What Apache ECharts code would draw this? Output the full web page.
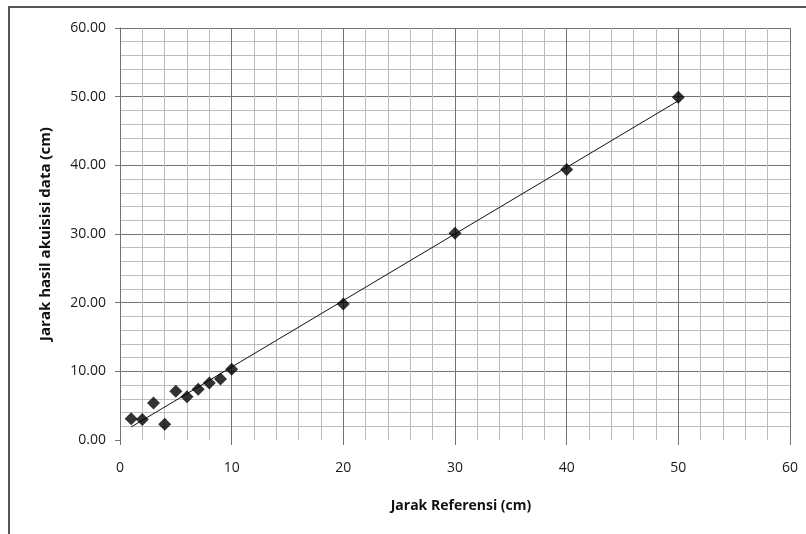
<!DOCTYPE html>
<html>
<head>
<meta charset="utf-8">
<script src="https://cdn.jsdelivr.net/npm/echarts@6/dist/echarts.min.js"></script>
<style>
html,body{margin:0;padding:0;background:#fff;}
#c{width:806px;height:534px;}
</style>
</head>
<body>
<div id="c"></div>
<script>
// Data
var refDistance = [1, 2, 3, 4, 5, 6, 7, 8, 9, 10, 20, 30, 40, 50];
var measuredDistance = [3.1, 3.0, 5.4, 2.3, 7.1, 6.3, 7.4, 8.3, 8.9, 10.3, 19.8, 30.1, 39.4, 49.9];
// Linear trendline endpoints as drawn in the picture
var trendX = [1, 50];
var trendY = [1.9, 49.4];
var xTitle = 'Jarak Referensi (cm)';
var yTitle = 'Jarak hasil akuisisi data (cm)';

var points = refDistance.map(function (x, i) { return [x, measuredDistance[i]]; });
var trend = trendX.map(function (x, i) { return [x, trendY[i]]; });

var FONT = '"Open Sans", sans-serif';
var majorColor = '#737373';
var minorColor = '#bdbdbd';

var chart = echarts.init(document.getElementById('c'), null, {renderer: 'canvas'});
chart.setOption({
  animation: false,
  backgroundColor: '#fff',
  graphic: [{
    type: 'rect',
    shape: {x: 9, y: 7, width: 820, height: 560},
    style: {fill: 'none', stroke: '#555', lineWidth: 2},
    silent: true,
    z: -1
  }],
  grid: {left: 120, right: 16, top: 28, bottom: 94, containLabel: false},
  xAxis: {
    type: 'value',
    min: 0, max: 60, interval: 10,
    name: xTitle,
    nameLocation: 'middle',
    nameGap: 59,
    nameTextStyle: {fontFamily: FONT, fontSize: 14, fontWeight: 'bold', color: '#111', padding: [0, 0, 0, 12]},
    axisLine: {show: false},
    axisTick: {show: true, length: 5, lineStyle: {color: majorColor}},
    axisLabel: {fontFamily: FONT, fontSize: 14, color: '#1a1a1a', margin: 21},
    splitLine: {show: true, lineStyle: {color: majorColor, width: 1}},
    minorTick: {show: false, splitNumber: 5},
    minorSplitLine: {show: true, lineStyle: {color: minorColor, width: 1}}
  },
  yAxis: {
    type: 'value',
    min: 0, max: 60, interval: 10,
    name: yTitle,
    nameLocation: 'middle',
    nameGap: 67,
    nameTextStyle: {fontFamily: FONT, fontSize: 15, fontWeight: 'bold', color: '#111'},
    axisLine: {show: true, lineStyle: {color: majorColor}},
    axisTick: {show: true, length: 5, lineStyle: {color: majorColor}},
    axisLabel: {fontFamily: FONT, fontSize: 14, color: '#1a1a1a', margin: 14,
      formatter: function (v) { return v.toFixed(2); }},
    splitLine: {show: true, lineStyle: {color: ['rgba(0,0,0,0)', majorColor, majorColor, majorColor, majorColor, majorColor, majorColor], width: 1}},
    minorTick: {show: false, splitNumber: 5},
    minorSplitLine: {show: true, lineStyle: {color: minorColor, width: 1}}
  },
  series: [{
    type: 'line',
    data: trend,
    showSymbol: false,
    symbol: 'none',
    lineStyle: {color: '#111', width: 1},
    z: 2
  }, {
    type: 'scatter',
    data: points,
    symbol: 'diamond',
    symbolSize: 13,
    itemStyle: {color: '#000'},
    z: 3
  }]
});
</script>
</body>
</html>
